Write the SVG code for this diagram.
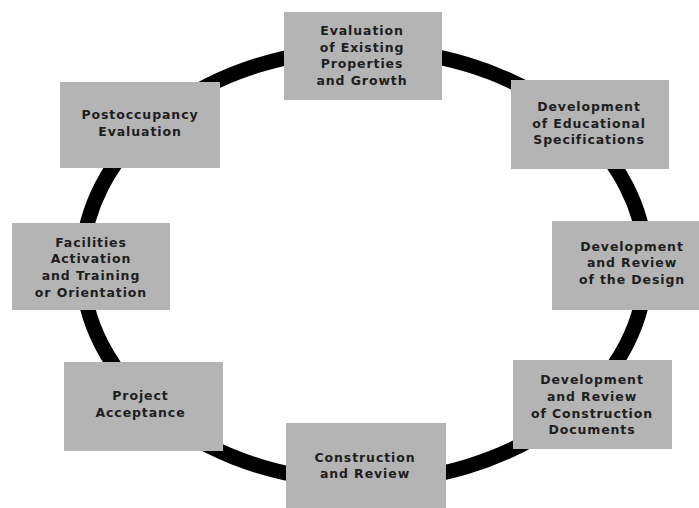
<svg xmlns="http://www.w3.org/2000/svg" width="699" height="508" viewBox="0 0 699 508">
<style>
.box{fill:#b4b4b4;stroke:none}
.t{font-family:"DejaVu Sans","Liberation Sans",sans-serif;font-weight:bold;font-size:12.5px;letter-spacing:0.9px;fill:#1e1e1e;text-anchor:middle}
.ring{fill:none;stroke:#000;stroke-width:15}
</style>
<rect width="699" height="508" fill="#fff"/>
<g id="connectors">
<ellipse class="ring" cx="364" cy="265.5" rx="282" ry="216"/>
</g>
<g id="n1">
<rect class="box" x="284" y="12" width="158" height="88"/>
<text class="t" x="362"><tspan x="362" y="35">Evaluation</tspan><tspan x="362" y="52">of Existing</tspan><tspan x="362" y="68">Properties</tspan><tspan x="362" y="85">and Growth</tspan></text>
</g>
<g id="n2">
<rect class="box" x="511" y="80" width="158" height="89"/>
<text class="t" x="589"><tspan x="589" y="111">Development</tspan><tspan x="589" y="128">of Educational</tspan><tspan x="589" y="144">Specifications</tspan></text>
</g>
<g id="n3">
<rect class="box" x="552" y="221" width="160" height="89"/>
<text class="t" x="632"><tspan x="632" y="251">Development</tspan><tspan x="632" y="267">and Review</tspan><tspan x="632" y="284">of the Design</tspan></text>
</g>
<g id="n4">
<rect class="box" x="513" y="360" width="159" height="89"/>
<text class="t" x="592"><tspan x="592" y="384">Development</tspan><tspan x="592" y="401">and Review</tspan><tspan x="592" y="418">of Construction</tspan><tspan x="592" y="434">Documents</tspan></text>
</g>
<g id="n5">
<rect class="box" x="286" y="423" width="160" height="90"/>
<text class="t" x="365"><tspan x="365" y="462">Construction</tspan><tspan x="365" y="478">and Review</tspan></text>
</g>
<g id="n6">
<rect class="box" x="64" y="362" width="159" height="89"/>
<text class="t" x="140.5"><tspan x="140.5" y="400">Project</tspan><tspan x="140.5" y="417">Acceptance</tspan></text>
</g>
<g id="n7">
<rect class="box" x="12" y="223" width="158" height="87"/>
<text class="t" x="91"><tspan x="91" y="247">Facilities</tspan><tspan x="91" y="263">Activation</tspan><tspan x="91" y="280">and Training</tspan><tspan x="91" y="297">or Orientation</tspan></text>
</g>
<g id="n8">
<rect class="box" x="60" y="82" width="160" height="86"/>
<text class="t" x="140"><tspan x="140" y="119">Postoccupancy</tspan><tspan x="140" y="136">Evaluation</tspan></text>
</g>
</svg>
